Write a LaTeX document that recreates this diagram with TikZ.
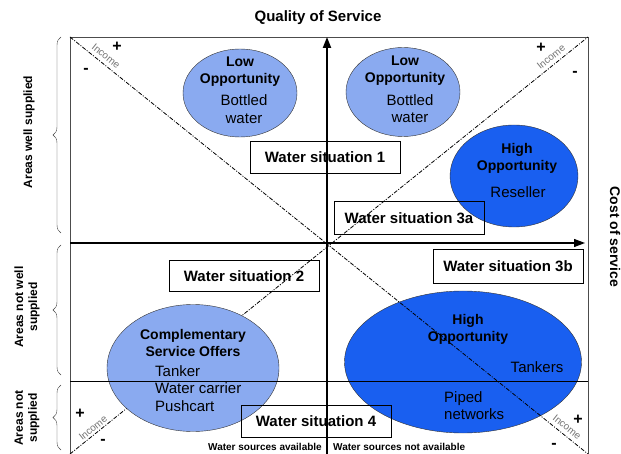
\documentclass[tikz,border=0pt]{standalone}
\usepackage{fontspec}
\setmainfont{Liberation Sans}
\usetikzlibrary{positioning,arrows.meta,decorations.pathreplacing,shapes.geometric}

\definecolor{lightblue}{RGB}{138,170,240}
\definecolor{deepblue}{RGB}{25,95,240}

\begin{document}
\begin{tikzpicture}[
  x=1pt, y=-1pt,
  vaxis/.style={line width=2pt, -{Triangle[length=11pt,width=8pt]}},
  haxis/.style={line width=1.2pt, -{Triangle[length=11pt,width=8pt]}},
  diag/.style={line width=0.8pt, dash pattern=on 4pt off 1.5pt on 1pt off 1.5pt},
  lowopp/.style={ellipse, draw=black!80, fill=lightblue, inner sep=0pt},
  highopp/.style={ellipse, draw=black!80, fill=deepblue, inner sep=0pt},
  sitbox/.style={draw, line width=0.8pt, minimum width=150pt, minimum height=32pt,
    font=\fontsize{15}{18}\selectfont\bfseries},
  oppname/.style={font=\fontsize{14}{17}\selectfont\bfseries, align=center, inner sep=0pt},
  offer/.style={font=\fontsize{15}{17.5}\selectfont, inner sep=0pt},
  sign/.style={font=\fontsize{16}{16}\selectfont\bfseries, inner sep=0pt},
  income/.style={font=\fontsize{10}{10}\selectfont, text=black!55, inner sep=0pt},
  region/.style={font=\fontsize{12}{14}\selectfont\bfseries, rotate=90, align=center},
  srclbl/.style={font=\fontsize{10}{10}\selectfont\bfseries, inner sep=0pt},
  bracket/.style={decorate, decoration={brace, amplitude=8pt}, black!75}
]
  \useasboundingbox (0,0) rectangle (621,454);

  % frame corners and axis ends
  \coordinate (tl) at (70,37);
  \coordinate (tr) at (588,37);
  \coordinate (bl) at (70,454);
  \coordinate (br) at (588,454);
  \coordinate (qtop) at (327,37);
  \coordinate (qbot) at (327,454);
  \coordinate (cleft) at (70,243);
  \coordinate (cright) at (585,243);
  \coordinate (sleft) at (70,381);
  \coordinate (sright) at (588,381);

  \draw [black!70] (bl) -- (tl) -- (tr) -- (br);
  \draw [diag] (bl) -- (tr);

  % opportunities
  \node (lo1) [lowopp, minimum width=114pt, minimum height=88pt] at (240,93) {};
  \node (lo2) [lowopp, minimum width=114pt, minimum height=89pt] at (403,92) {};
  \node (hi1) [highopp, minimum width=128pt, minimum height=102pt] at (514,176) {};
  \node (cso) [lowopp, minimum width=172pt, minimum height=127pt] at (193,368) {};
  \node (hi2) [highopp, minimum width=237pt, minimum height=142pt] at (463,362) {};

  \draw (sleft) -- (sright);
  \draw [diag] (tl) -- (br);

  \draw [vaxis] (qbot) -- (qtop);
  \draw [haxis] (cleft) -- (cright);

  \node (lo1t) [oppname] at (240,71.5) {Low\\Opportunity};
  \node (lo1o) [offer, align=center] at (244,109) {Bottled\\water};
  \node (lo2t) [oppname] at (405,70.5) {Low\\Opportunity};
  \node (lo2o) [offer, align=center] at (410,108.5) {Bottled\\water};
  \node (hi1t) [oppname] at (517,158) {High\\Opportunity};
  \node (hi1o) [offer] at (518,192) {Reseller};
  \node (csot) [oppname] at (193,342.5) {Complementary\\Service Offers};
  \node (csoo) [offer, align=left, anchor=west] at (155,388.5) {Tanker\\Water carrier\\Pushcart};
  \node (hi2t) [oppname] at (468,329.5) {High\\Opportunity};
  \node (hi2a) [offer] at (537,367) {Tankers};
  \node (hi2o) [offer, align=left, anchor=west] at (444,405.5) {Piped\\networks};

  % water situations
  \node (ws1) [sitbox] at (325,157) {Water situation 1};
  \node (ws3a) [sitbox, minimum height=33pt] at (409,218) {Water situation 3a};
  \node (ws2) [sitbox, minimum height=31pt] at (244,276) {Water situation 2};
  \node (ws3b) [sitbox, minimum height=34pt] at (508,266) {Water situation 3b};
  \node (ws4) [sitbox] at (316,421) {Water situation 4};

  % income along the diagonals
  \node (inctl) [income, rotate=-38.8] at (106,56) {Income};
  \node (inctr) [income, rotate=38.8] at (551,57) {Income};
  \node (incbl) [income, rotate=38.8] at (93,428) {Income};
  \node (incbr) [income, rotate=-38.8] at (567,427) {Income};
  \node [sign] at (117,47) {+};
  \node [sign] at (86,71) {-};
  \node [sign] at (541,48) {+};
  \node [sign] at (575,74) {-};
  \node [sign] at (80,414) {+};
  \node [sign] at (103,442) {-};
  \node [sign] at (578,420) {+};
  \node [sign] at (554,446) {-};

  % axis titles
  \node (qos) [font=\fontsize{15}{18}\selectfont\bfseries] at (318,18) {Quality of Service};
  \node (cos) [font=\fontsize{14}{17}\selectfont\bfseries, rotate=-90] at (615,237) {Cost of service};

  \coordinate (src) at (327,447);
  \node (avail) [srclbl, left=5pt of src] {Water sources available};
  \node (navail) [srclbl, right=6pt of src] {Water sources not available};

  % supply areas
  \draw [bracket] (61,233) -- (61,37);
  \draw [bracket] (61,375) -- (61,245);
  \draw [bracket] (61,450) -- (61,385);
  \node (well) [region] at (29,132) {Areas well supplied};
  \node (notwell) [region] at (27,307) {Areas not well\\supplied};
  \node (notsup) [region] at (27,418) {Areas not\\supplied};

\end{tikzpicture}
\end{document}
